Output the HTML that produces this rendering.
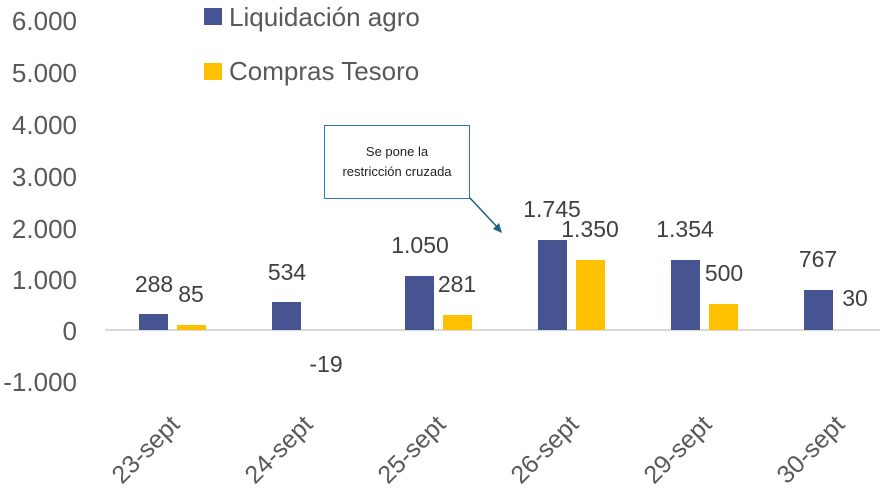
<!DOCTYPE html>
<html><head><meta charset="utf-8"><style>
html,body{margin:0;padding:0;background:#fff;}
svg{display:block;font-family:"Liberation Sans",Arial,sans-serif;}
</style></head><body>
<svg width="886" height="493" viewBox="0 0 886 493" xmlns="http://www.w3.org/2000/svg">
<g fill="#595959" font-size="26" text-anchor="end">
<text x="77" y="30">6.000</text>
<text x="77" y="82">5.000</text>
<text x="77" y="134">4.000</text>
<text x="77" y="186">3.000</text>
<text x="77" y="238">2.000</text>
<text x="77" y="289">1.000</text>
<text x="77" y="340">0</text>
<text x="77" y="391">-1.000</text>
</g>
<line x1="105" y1="330" x2="880" y2="330" stroke="#d9d9d9" stroke-width="2"/>
<g fill="#465492">
<rect x="139" y="314" width="29" height="16"/>
<rect x="272" y="302" width="29" height="28"/>
<rect x="405" y="276" width="29" height="54"/>
<rect x="538" y="240" width="29" height="90"/>
<rect x="671" y="260" width="29" height="70"/>
<rect x="804" y="290" width="29" height="40"/>
</g>
<g fill="#ffc000">
<rect x="177" y="325" width="29" height="5"/>
<rect x="443" y="315" width="29" height="15"/>
<rect x="576" y="260" width="29" height="70"/>
<rect x="709" y="304" width="29" height="26"/>
</g>
<g fill="#404040" font-size="23" text-anchor="middle">
<text x="154" y="292">288</text>
<text x="191" y="302">85</text>
<text x="287" y="280">534</text>
<text x="420" y="253">1.050</text>
<text x="457" y="292">281</text>
<text x="552" y="217">1.745</text>
<text x="590" y="237">1.350</text>
<text x="685" y="237">1.354</text>
<text x="724" y="281">500</text>
<text x="818" y="267">767</text>
<text x="855" y="306">30</text>
<text x="326" y="372">-19</text>
</g>
<g fill="#595959" font-size="25" text-anchor="end">
<text transform="translate(181,426) rotate(-45)">23-sept</text>
<text transform="translate(314,426) rotate(-45)">24-sept</text>
<text transform="translate(447,426) rotate(-45)">25-sept</text>
<text transform="translate(580,426) rotate(-45)">26-sept</text>
<text transform="translate(713,426) rotate(-45)">29-sept</text>
<text transform="translate(846,426) rotate(-45)">30-sept</text>
</g>
<rect x="204" y="8" width="18" height="17" fill="#465492"/>
<text x="229" y="26" font-size="26" fill="#595959">Liquidación agro</text>
<rect x="204" y="63" width="18" height="17" fill="#ffc000"/>
<text x="229" y="80" font-size="26" fill="#595959">Compras Tesoro</text>
<rect x="324.5" y="125.5" width="145" height="73" fill="#fff" stroke="#2e75b6" stroke-width="1"/>
<g font-size="13" fill="#222" text-anchor="middle">
<text x="397" y="156">Se pone la</text>
<text x="397" y="176">restricción cruzada</text>
</g>
<line x1="470" y1="198" x2="499" y2="229" stroke="#1f5f7f" stroke-width="1.5"/>
<polygon points="502,233 493,229 499,223" fill="#1f5f7f"/>
</svg>
</body></html>
